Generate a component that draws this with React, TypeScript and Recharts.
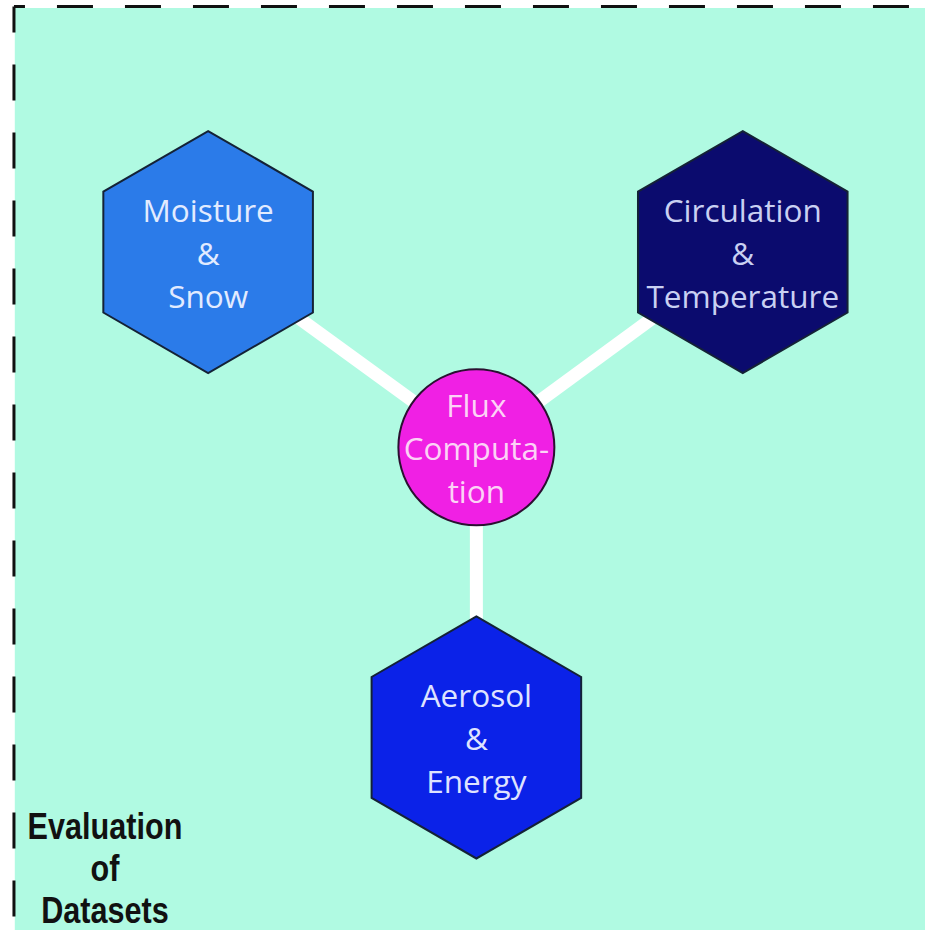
import { ScatterChart, Scatter, XAxis, YAxis, ReferenceArea, ReferenceLine } from "recharts"

// diagram nodes, positions in layout units (0-100 on both axes, y runs downward)
const nodeLabels = [
  ["Moisture", "&", "Snow"],
  ["Circulation", "&", "Temperature"],
  ["Flux", "Computa-", "tion"],
  ["Aerosol", "&", "Energy"],
]
const nodeX = [22.5, 80.3, 51.5, 51.5]
const nodeY = [27.1, 27.1, 48.1, 79.3]
const nodeKind = ["hex", "hex", "circle", "hex"]

// links from the flux node to each dataset node
const links = [
  [2, 0],
  [2, 1],
  [2, 3],
]

const caption = ["Evaluation", "of", "Datasets"]

const fills = ["#2b7be9", "#0b0b6e", "#f020e4", "#0b22e8"]
const textFills = ["#e2ebff", "#c9d0f2", "#fcd2f6", "#dfe3ff"]

const W = 925
const H = 930
const HEX_R = 121
const CIRCLE_R = 78
const LINE_GAP = 43

const nodes = nodeLabels.map((lines, i) => ({
  x: nodeX[i],
  y: nodeY[i],
  lines,
  kind: nodeKind[i],
  idx: i,
}))

function NodeShape(props: any) {
  const { cx, cy, payload } = props
  const i = payload.idx
  let body
  if (payload.kind === "circle") {
    body = <circle cx={cx} cy={cy} r={CIRCLE_R} fill={fills[i]} stroke="#2a1030" strokeWidth={2} />
  } else {
    const pts = []
    for (let k = 0; k < 6; k++) {
      const a = (Math.PI / 3) * k - Math.PI / 2
      pts.push(`${cx + HEX_R * Math.cos(a)},${cy + HEX_R * Math.sin(a)}`)
    }
    body = <polygon points={pts.join(" ")} fill={fills[i]} stroke="#142236" strokeWidth={2} />
  }
  return (
    <g>
      {body}
      {payload.lines.map((t: string, k: number) => (
        <text
          key={k}
          x={cx}
          y={cy + (k - 1) * LINE_GAP}
          textAnchor="middle"
          dominantBaseline="central"
          fill={textFills[i]}
          fontFamily="'Open Sans', sans-serif"
          fontSize={31.5}
        >
          {t}
        </text>
      ))}
    </g>
  )
}

const noDot = () => <g />

export default function App() {
  return (
    <div style={{ position: "absolute", left: 0, top: 0, width: W, height: H, background: "#ffffff", overflow: "hidden" }}>
      <ScatterChart width={W} height={H} margin={{ top: 0, right: 0, bottom: 0, left: 0 }}>
        <XAxis type="number" dataKey="x" domain={[0, 100]} hide allowDataOverflow />
        <YAxis type="number" dataKey="y" domain={[0, 100]} reversed hide allowDataOverflow />
        <ReferenceArea x1={1.6} x2={100} y1={0.86} y2={100} fill="#b0fae2" fillOpacity={1} stroke="none" ifOverflow="visible" />
        <ReferenceLine
          segment={[{ x: 1.51, y: 0.7 }, { x: 100, y: 0.7 }]}
          stroke="#111111"
          strokeWidth={3}
          strokeDasharray="36 32"
          strokeDashoffset={25}
          ifOverflow="visible"
        />
        <ReferenceLine
          segment={[{ x: 1.51, y: 0.7 }, { x: 1.51, y: 100 }]}
          stroke="#111111"
          strokeWidth={3}
          strokeDasharray="36 32"
          strokeDashoffset={10}
          ifOverflow="visible"
        />
        {links.map(([a, b], k) => (
          <Scatter
            key={k}
            data={[
              { x: nodeX[a], y: nodeY[a] },
              { x: nodeX[b], y: nodeY[b] },
            ]}
            line={{ stroke: "#ffffff", strokeWidth: 13 }}
            lineType="joint"
            shape={noDot}
            isAnimationActive={false}
          />
        ))}
        <Scatter data={nodes} shape={NodeShape} isAnimationActive={false} />
      </ScatterChart>
      <div
        style={{
          position: "absolute",
          left: 5,
          top: 806,
          width: 200,
          textAlign: "center",
          fontFamily: "'Liberation Sans', Arial, sans-serif",
          fontWeight: 700,
          fontSize: 36,
          lineHeight: "42px",
          color: "#111111",
          transform: "scaleX(0.85)",
          transformOrigin: "50% 0",
        }}
      >
        {caption.map((t) => (
          <div key={t}>{t}</div>
        ))}
      </div>
    </div>
  )
}
